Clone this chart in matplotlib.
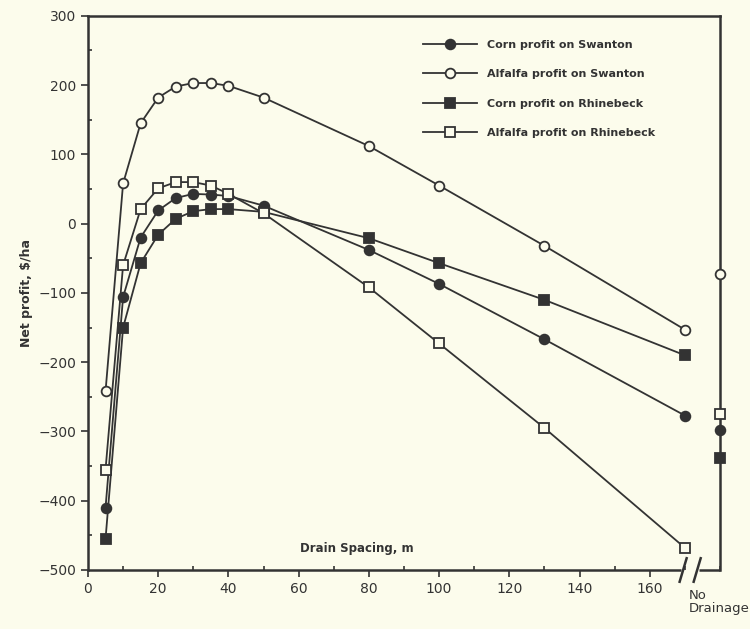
import matplotlib.pyplot as plt
from matplotlib.lines import Line2D
from matplotlib.ticker import MultipleLocator

# Drain spacing (m) and net profit ($/ha)
spacing = [5, 10, 15, 20, 25, 30, 35, 40, 50, 80, 100, 130, 170]
alfalfa_swanton = [-242, 58, 145, 182, 198, 203, 203, 199, 182, 112, 55, -32, -153]
corn_swanton = [-410, -106, -20, 19, 37, 43, 42, 40, 26, -38, -87, -167, -277]
corn_rhinebeck = [-455, -150, -57, -16, 7, 18, 21, 21, 17, -21, -57, -110, -190]
alfalfa_rhinebeck = [-355, -60, 21, 51, 60, 60, 55, 43, 15, -92, -173, -295, -468]

# values at "No Drainage" (drawn on the right edge)
no_drain_x = 180
no_drain = {'cs': -298, 'as': -72, 'cr': -338, 'ar': -275}

labels = ['Corn profit on Swanton', 'Alfalfa profit on Swanton',
          'Corn profit on Rhinebeck', 'Alfalfa profit on Rhinebeck']

bg = '#fcfcec'
ink = '#333333'

fig = plt.figure(figsize=(7.5, 6.29), dpi=100, facecolor=bg)
ax = fig.add_axes([0.1173, 0.0938, 0.8427, 0.881])
ax.set_facecolor(bg)

common = dict(color=ink, lw=1.3, ms=7, mew=1.3)
series = [
    (corn_swanton, 'o', ink, 'cs'),
    (alfalfa_swanton, 'o', bg, 'as'),
    (corn_rhinebeck, 's', ink, 'cr'),
    (alfalfa_rhinebeck, 's', bg, 'ar'),
]
for vals, mk, fc, key in series:
    ax.plot(spacing, vals, marker=mk, mfc=fc, mec=ink, zorder=3, **common)
    ax.plot([no_drain_x], [no_drain[key]], marker=mk, mfc=fc, mec=ink,
            ls='none', clip_on=False, zorder=4, ms=7, mew=1.3)

ax.set_xlim(0, 180)
ax.set_ylim(-500, 300)
ax.xaxis.set_minor_locator(MultipleLocator(10))
ax.yaxis.set_major_locator(MultipleLocator(100))
ax.yaxis.set_minor_locator(MultipleLocator(50))
ax.set_xticks([0, 20, 40, 60, 80, 100, 120, 140, 160])
ax.tick_params(which='both', color=ink, labelcolor=ink, labelsize=10, width=1.2)
ax.tick_params(which='major', length=5)
ax.tick_params(which='minor', length=3, direction='in')

for s in ax.spines.values():
    s.set_color(ink)
    s.set_linewidth(1.8)
ax.spines['bottom'].set_visible(False)

# bottom axis with a break before "No Drainage"
ax.plot([0, 169], [-500, -500], color=ink, lw=1.8, clip_on=False, solid_capstyle='butt')
ax.plot([174, 180], [-500, -500], color=ink, lw=1.8, clip_on=False, solid_capstyle='butt')
for bx in (169.5, 173.5):
    ax.plot([bx - 1, bx + 1], [-517, -483], color=ink, lw=1.8, clip_on=False)

ax.text(171.2, -527, 'No\nDrainage', ha='left', va='top', fontsize=9.5,
        color=ink, linespacing=1.05, clip_on=False)

ax.set_ylabel('Net profit, $/ha', fontsize=9, fontweight='bold', color=ink, labelpad=4)
ax.text(76.5, -469, 'Drain Spacing, m', ha='center', va='center', fontsize=8.5,
        fontweight='bold', color=ink)

handles = [
    Line2D([], [], marker='o', mfc=ink, mec=ink, **common),
    Line2D([], [], marker='o', mfc=bg, mec=ink, **common),
    Line2D([], [], marker='s', mfc=ink, mec=ink, **common),
    Line2D([], [], marker='s', mfc=bg, mec=ink, **common),
]
leg = ax.legend(handles, labels, loc='upper left', bbox_to_anchor=(0.515, 0.975),
                frameon=False, prop=dict(size=8, weight='bold'),
                handlelength=4.8, labelspacing=1.75, handletextpad=0.9)
for t in leg.get_texts():
    t.set_color(ink)

fig.savefig('out.png', dpi=100, facecolor=bg)
